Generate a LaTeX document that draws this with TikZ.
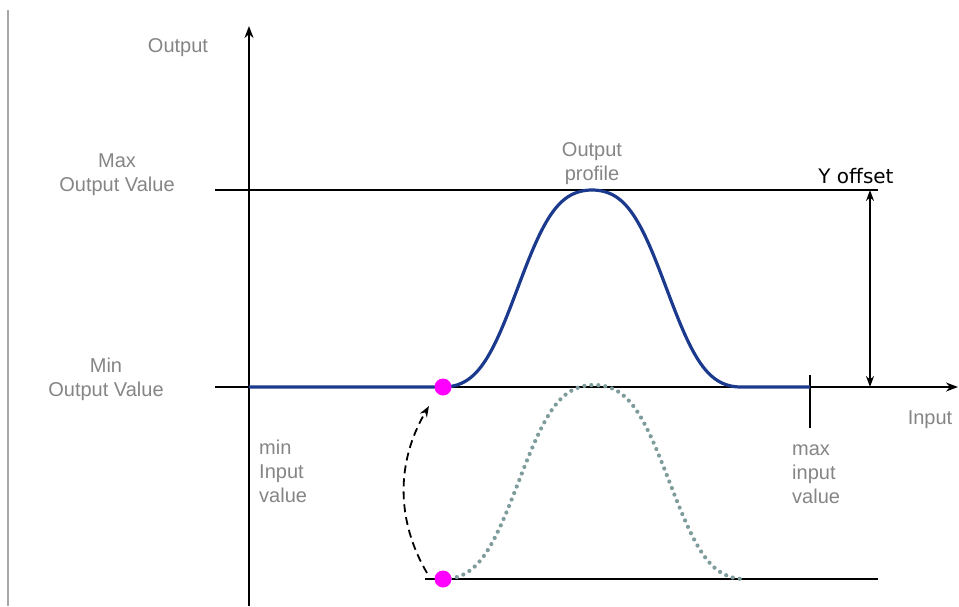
\documentclass[tikz,border=0pt]{standalone}
\usepackage{fontspec}
\setmainfont{Liberation Sans}
\newfontfamily\verd{DejaVu Sans}
\usetikzlibrary{arrows.meta}
\definecolor{lbl}{HTML}{858585}
\definecolor{prof}{HTML}{1B3A8E}
\definecolor{dotc}{HTML}{7E9C9C}
\definecolor{mag}{HTML}{FF00FF}
\definecolor{edge}{HTML}{A8A8A8}
\begin{document}
\begin{tikzpicture}[x=1pt,y=-1pt,
  declare function={rc(\t)=(1-cos(360*\t))/2; sm(\t)=rc(\t)*rc(\t)*(3-2*rc(\t)); bellf(\t)=0.45*rc(\t)+0.55*sm(\t);},
  axis/.style={line width=1.8pt, black},
  thin line/.style={line width=1.6pt, black},
  lab/.style={font=\fontsize{20}{24}\selectfont, text=lbl, inner sep=0pt, align=center},
  labl/.style={font=\fontsize{20}{24}\selectfont, text=lbl, inner sep=0pt, align=left},
  profile/.style={line width=3.2pt, prof, line join=round},
  ghost/.style={line width=4.2pt, dotc, line cap=round, dash pattern=on 0pt off 7pt},
  hotdot/.style={circle, fill=mag, minimum size=17pt, inner sep=0pt},
  tip/.style={-{Stealth[length=12pt,width=9pt]}},
]
\useasboundingbox (0,0) rectangle (959,606);
% coordinates
\coordinate (edgeT) at (8,10);
\coordinate (edgeB) at (8,606);
\coordinate (yTop) at (249,26);
\coordinate (yBot) at (249,606);
\coordinate (xL) at (215,387);
\coordinate (xR) at (958,387);
\coordinate (O) at (249,387);
\coordinate (maxL) at (215,190);
\coordinate (maxR) at (878,190);
\coordinate (tickT) at (810,375);
\coordinate (tickB) at (810,428);
\coordinate (tickM) at (810,387);
\coordinate (yoT) at (870,190);
\coordinate (yoB) at (870,387);
\coordinate (botL) at (425,579);
\coordinate (botR) at (878,579);
\coordinate (a0) at (427,573);
\coordinate (a1) at (429,406);
% left edge
\draw[edge, line width=2.2pt] (edgeT) -- (edgeB);
% axes
\draw[axis, tip] (yBot) -- (yTop);
\draw[axis, tip] (xL) -- (xR);
\draw[thin line] (maxL) -- (maxR);
\draw[thin line] (botL) -- (botR);
\draw[thin line] (tickT) -- (tickB);
\draw[thin line, {Stealth[length=11pt,width=8pt]}-{Stealth[length=11pt,width=8pt]}] (yoT) -- (yoB);
% ghost profile
\draw[ghost] plot[domain=443:745, samples=120] (\x,{579-194*bellf((\x-443)/302)});
% output profile
\draw[profile] (O) -- (443,387) -- plot[domain=443:741, samples=150] (\x,{387-197*bellf((\x-443)/298)}) -- (tickM);
% dashed arrow
\draw[line width=1.8pt, dash pattern=on 8pt off 5pt, -{Stealth[length=11pt,width=8pt]}] (a0) .. controls (396,520) and (396,462) .. (a1);
% dots
\node[hotdot] (d1) at (443,387) {};
\node[hotdot] (d2) at (443,579) {};
% labels (base anchor = baseline of last line)
\node[lab, anchor=base] (lOut) at (178,52) {Output};
\node[lab, anchor=base] (lMax) at (117,191) {Max\\Output Value};
\node[lab, anchor=base] (lMin) at (106,396) {Min\\Output Value};
\node[lab, anchor=base] (lProf) at (592,180) {Output\\profile};
\node[labl, anchor=base west] (lMinIn) at (259,502) {min\\Input\\value};
\node[labl, anchor=base west] (lMaxIn) at (792,503) {max\\input\\value};
\node[lab, anchor=base] (lIn) at (930,424) {Input};
\node[font=\verd\fontsize{20}{24}\selectfont, inner sep=0pt, anchor=base] (lYo) at (856,183) {Y offset};
\end{tikzpicture}
\end{document}
